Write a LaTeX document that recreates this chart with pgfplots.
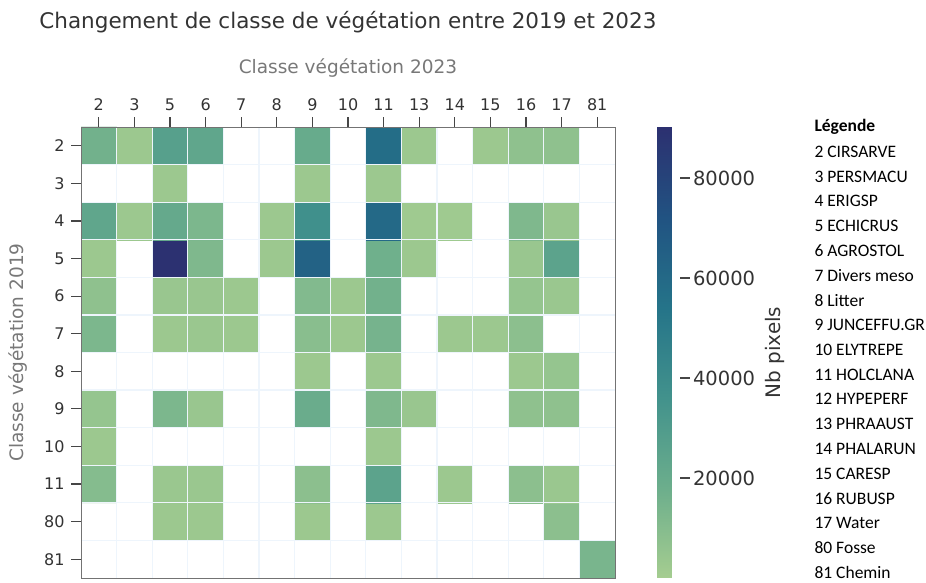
\documentclass[border=0pt]{standalone}
\usepackage{pgfplots}
\pgfplotsset{compat=1.18}
\usepackage{fontspec}
\setmainfont{DejaVu Sans}
\newfontfamily\legfont{Carlito}

\definecolor{txt}{RGB}{51,51,51}
\definecolor{lab}{RGB}{120,120,120}
\definecolor{spine}{RGB}{115,115,115}
\definecolor{tickc}{RGB}{70,70,70}
\definecolor{gridc}{RGB}{238,245,252}

\begin{document}
\begin{tikzpicture}[x=1pt,y=1pt]
\path[use as bounding box] (0,0) rectangle (926,-583);
\begin{axis}[
    at={(81pt,-578pt)}, anchor=south west,
    scale only axis, width=534pt, height=451pt,
    xmin=-0.5, xmax=14.5, ymin=-0.5, ymax=11.5,
    xtick={0,...,14},
    xticklabels={2,3,5,6,7,8,9,10,11,13,14,15,16,17,81},
    ytick={0,...,11},
    yticklabels={81,80,11,10,9,8,7,6,5,4,3,2},
    xtick pos=right, xticklabel pos=right,
    ytick pos=left, yticklabel pos=left,
    tick align=outside, major tick length=10pt,
    tick style={draw=tickc, line width=1.1pt},
    axis line style={draw=spine, line width=0.9pt},
    minor xtick={0.5,1.5,...,13.5},
    minor ytick={0.5,1.5,...,10.5},
    minor tick length=0pt,
    xminorgrids, yminorgrids,
    minor grid style={draw=gridc, line width=1.2pt},
    axis on top,
    ticklabel style={font=\fontsize{16}{18}\selectfont, text=txt},
    xticklabel style={yshift=3pt},
    yticklabel style={xshift=-3pt},
    title={Changement de classe de végétation entre 2019 et 2023},
    every axis title/.style={at={(axis description cs:0.5,1)}, anchor=center,
        yshift=105pt, font=\fontsize{21.5}{24}\selectfont, text=txt},
    xlabel={Classe végétation 2023},
    ylabel={Classe végétation 2019},
    every axis x label/.style={at={(axis description cs:0.5,1)}, anchor=center,
        yshift=59pt, font=\fontsize{18.5}{22}\selectfont, text=lab},
    every axis y label/.style={at={(axis description cs:0,0.5)}, anchor=center,
        xshift=-63pt, rotate=90, font=\fontsize{18.5}{22}\selectfont, text=lab},
    colormap={crest}{rgb255(0pt)=(255,255,255); rgb255(1pt)=(165,205,144);
        rgb255(180pt)=(108,174,140); rgb255(360pt)=(66,146,140);
        rgb255(540pt)=(37,116,137); rgb255(720pt)=(33,83,130);
        rgb255(902pt)=(44,48,112)},
    point meta min=0, point meta max=90200,
    colorbar,
    colorbar style={
        at={(parent axis.south east)}, anchor=south west, xshift=34pt,
        scale only axis, width=22pt, height=451pt,
        ytick={20000,40000,60000,80000},
        scaled y ticks=false,
        ytick pos=right, yticklabel pos=right,
        tick align=outside, major tick length=10pt,
        ytick style={draw=tickc, line width=1.1pt},
        axis line style={draw=none},
        yticklabel style={font=\fontsize{19.5}{22}\selectfont, text=txt,
            /pgf/number format/1000 sep={},
            /pgf/number format/assume math mode=true},
        ylabel={Nb pixels},
        every axis y label/.style={at={(axis description cs:1,0.5)}, anchor=center,
            xshift=95pt, rotate=90, font=\fontsize{20}{24}\selectfont, text=txt},
    },
]
% rows from bottom (81) to top (2), columns 2 3 5 6 7 8 9 10 11 13 14 15 16 17 81
\addplot[matrix plot*, mesh/cols=15, point meta=explicit] coordinates {
(0,0)[0] (1,0)[0] (2,0)[0] (3,0)[0] (4,0)[0] (5,0)[0] (6,0)[0] (7,0)[0] (8,0)[0] (9,0)[0] (10,0)[0] (11,0)[0] (12,0)[0] (13,0)[0] (14,0)[14000]
(0,1)[0] (1,1)[0] (2,1)[3000] (3,1)[3000] (4,1)[0] (5,1)[0] (6,1)[3000] (7,1)[0] (8,1)[3000] (9,1)[0] (10,1)[0] (11,1)[0] (12,1)[0] (13,1)[8000] (14,1)[0]
(0,2)[10000] (1,2)[0] (2,2)[3500] (3,2)[3500] (4,2)[0] (5,2)[0] (6,2)[8000] (7,2)[0] (8,2)[25000] (9,2)[0] (10,2)[3000] (11,2)[0] (12,2)[8000] (13,2)[3500] (14,2)[0]
(0,3)[3000] (1,3)[0] (2,3)[0] (3,3)[0] (4,3)[0] (5,3)[0] (6,3)[0] (7,3)[0] (8,3)[3000] (9,3)[0] (10,3)[0] (11,3)[0] (12,3)[0] (13,3)[0] (14,3)[0]
(0,4)[5000] (1,4)[0] (2,4)[13000] (3,4)[4000] (4,4)[0] (5,4)[0] (6,4)[19000] (7,4)[0] (8,4)[12000] (9,4)[4000] (10,4)[0] (11,4)[0] (12,4)[7000] (13,4)[7000] (14,4)[0]
(0,5)[0] (1,5)[0] (2,5)[0] (3,5)[0] (4,5)[0] (5,5)[0] (6,5)[3000] (7,5)[0] (8,5)[3000] (9,5)[0] (10,5)[0] (11,5)[0] (12,5)[3000] (13,5)[5000] (14,5)[0]
(0,6)[13000] (1,6)[0] (2,6)[3000] (3,6)[3500] (4,6)[3000] (5,6)[0] (6,6)[9000] (7,6)[3000] (8,6)[15000] (9,6)[0] (10,6)[3000] (11,6)[3000] (12,6)[8000] (13,6)[0] (14,6)[0]
(0,7)[7000] (1,7)[0] (2,7)[4000] (3,7)[4000] (4,7)[3000] (5,7)[0] (6,7)[11000] (7,7)[3000] (8,7)[16000] (9,7)[0] (10,7)[0] (11,7)[0] (12,7)[5000] (13,7)[3500] (14,7)[0]
(0,8)[3000] (1,8)[0] (2,8)[89500] (3,8)[12000] (4,8)[0] (5,8)[3000] (6,8)[64000] (7,8)[0] (8,8)[17000] (9,8)[3000] (10,8)[0] (11,8)[0] (12,8)[4000] (13,8)[25000] (14,8)[0]
(0,9)[23000] (1,9)[3000] (2,9)[21000] (3,9)[13000] (4,9)[0] (5,9)[3000] (6,9)[37000] (7,9)[0] (8,9)[60000] (9,9)[2000] (10,9)[2000] (11,9)[0] (12,9)[12000] (13,9)[4000] (14,9)[0]
(0,10)[0] (1,10)[0] (2,10)[3000] (3,10)[0] (4,10)[0] (5,10)[0] (6,10)[3000] (7,10)[0] (8,10)[3000] (9,10)[0] (10,10)[0] (11,10)[0] (12,10)[0] (13,10)[0] (14,10)[0]
(0,11)[16000] (1,11)[3000] (2,11)[27000] (3,11)[23000] (4,11)[0] (5,11)[0] (6,11)[20000] (7,11)[0] (8,11)[58000] (9,11)[3000] (10,11)[0] (11,11)[3000] (12,11)[7000] (13,11)[7000] (14,11)[0]
};
\end{axis}
\node[anchor=west, font={\fontsize{17.5}{20}\legfont\bfseries}] at (811,-127) {Légende};
\foreach \t [count=\k] in {2 CIRSARVE, 3 PERSMACU, 4 ERIGSP, 5 ECHICRUS, 6 AGROSTOL,
    7 Divers meso, 8 Litter, 9 JUNCEFFU.GR, 10 ELYTREPE, 11 HOLCLANA, 12 HYPEPERF,
    13 PHRAAUST, 14 PHALARUN, 15 CARESP, 16 RUBUSP, 17 Water, 80 Fosse, 81 Chemin}
  \node[anchor=west, font={\fontsize{17.5}{20}\legfont}] at (811,{-127-24.75*\k}) {\t};
\end{tikzpicture}
\end{document}
